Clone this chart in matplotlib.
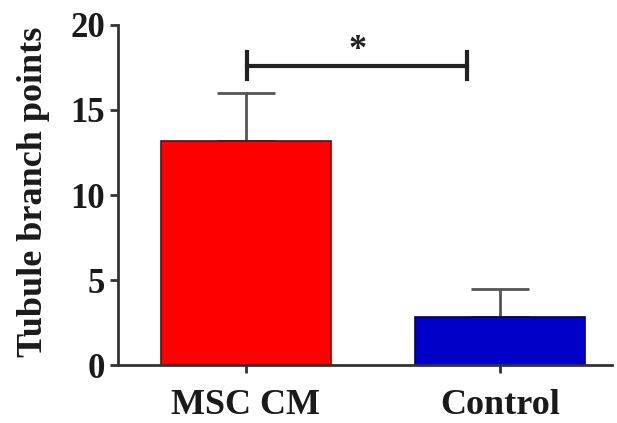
import matplotlib
matplotlib.use("Agg")
import matplotlib.pyplot as plt

categories = ["MSC CM", "Control"]
means = [13.2, 2.8]
errors = [2.8, 1.7]
yticks = [0, 5, 10, 15, 20]
sig_label = "*"
sig_y = 17.6

plt.rcParams['font.family'] = ['Liberation Serif', 'DejaVu Serif']
plt.rcParams['font.weight'] = 'bold'

fig = plt.figure(figsize=(6.17, 4.23), dpi=100)
ax = fig.add_axes([0.191, 0.137, 0.801, 0.804])

x = [0, 1]
colors = ["#ff0000", "#0000c8"]
edges = ["#7a0000", "#00006a"]
ax.bar(x, means, width=0.67, color=colors, edgecolor=edges, linewidth=1.2, zorder=2)
ax.errorbar(x, means, yerr=[[0, 0], errors], fmt='none', ecolor="#555555",
            elinewidth=2, capsize=21, capthick=2, zorder=1)

ax.set_xlim(-0.504, 1.44)
ax.set_ylim(0, 20)
ax.set_yticks(yticks)
ax.set_xticks(x)
ax.set_xticklabels(categories, fontsize=26, fontweight='bold', color="#1a1a1a")
ax.tick_params(axis='y', labelsize=25, width=2, length=6, color="#333333", labelcolor="#1a1a1a", pad=3)
ax.tick_params(axis='x', width=2, length=6, color="#333333", pad=11)
for lab in ax.get_yticklabels():
    lab.set_fontweight('bold')
ax.set_ylabel("Tubule branch points", fontsize=26, fontweight='bold', color="#1a1a1a")
ax.yaxis.set_label_coords(-0.138, 0.51)

for s in ['top', 'right']:
    ax.spines[s].set_visible(False)
for s in ['left', 'bottom']:
    ax.spines[s].set_linewidth(2)
    ax.spines[s].set_color("#333333")

# significance bracket
x0, x1 = 0.004, 0.87
ax.plot([x0, x1], [sig_y, sig_y], color="#222222", lw=3, clip_on=False)
ax.plot([x0, x0], [sig_y - 0.8, sig_y + 0.8], color="#222222", lw=3, clip_on=False)
ax.plot([x1, x1], [sig_y - 0.8, sig_y + 0.8], color="#222222", lw=3, clip_on=False)
ax.text((x0 + x1) / 2, sig_y - 0.1, sig_label, ha='center', va='bottom', fontsize=26,
        fontweight='bold', color="#222222")

fig.savefig("out.png", dpi=100)
